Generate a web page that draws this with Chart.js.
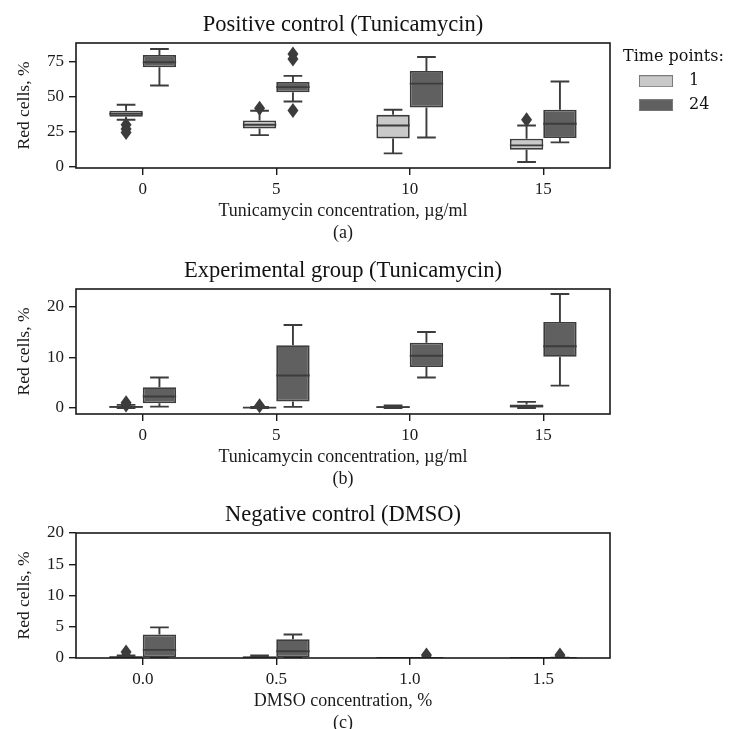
<!DOCTYPE html>
<html>
<head>
<meta charset="utf-8">
<script src="https://cdn.jsdelivr.net/npm/chart.js@4.4.0/dist/chart.umd.min.js"></script>
<style>
  html, body { margin: 0; padding: 0; background: #fff; width: 729px; height: 729px; overflow: hidden; }
  canvas { position: absolute; left: 0; }
</style>
</head>
<body>
<canvas id="chartA" width="729" height="245" style="top:0px"></canvas>
<canvas id="chartB" width="729" height="245" style="top:246px"></canvas>
<canvas id="chartC" width="729" height="245" style="top:490px"></canvas>
<script>
// categories
const tunicamycinLabels = ['0', '5', '10', '15'];
const dmsoLabels = ['0.0', '0.5', '1.0', '1.5'];
const timePoints = ['1', '24'];

// box stats per category: [lower whisker, q1, median, q3, upper whisker]
const posBox1 = [[33.6, 35.7, 37.9, 40.0, 44.3], [22.6, 27.4, 30.0, 33.0, 40.0], [9.5, 20.2, 29.5, 37.1, 40.7], [3.3, 12.1, 15.2, 20.0, 29.5]];
const posBox24 = [[58.1, 71.2, 74.8, 80.0, 84.3], [46.7, 53.3, 57.0, 60.7, 65.0], [20.9, 42.4, 59.5, 68.6, 78.6], [17.4, 20.5, 30.7, 40.7, 61.0]];
const posOut1 = [[30.0, 27.0, 24.5], [41.8], [], [33.6]];
const posOut24 = [[], [80.7, 77.1, 40.2], [], []];

const expBox1 = [[0, 0.05, 0.2, 0.4, 0.6], [0, 0.02, 0.05, 0.1, 0.2], [0, 0.05, 0.15, 0.35, 0.5], [0, 0.1, 0.3, 0.7, 1.2]];
const expBox24 = [[0.26, 0.9, 2.25, 4.1, 6.0], [0.2, 1.25, 6.4, 12.4, 16.4], [6.0, 8.1, 10.3, 12.9, 15.0], [4.4, 10.1, 12.2, 17.0, 22.5]];
const expOut1 = [[1.0, 0.6], [0.45], [], []];
const expOut24 = [[], [], [], []];

const dmsoBox1 = [[0, 0.05, 0.1, 0.3, 0.4], [0, 0.05, 0.1, 0.25, 0.4], [0, 0, 0, 0, 0], [0, 0, 0, 0, 0]];
const dmsoBox24 = [[0, 0, 1.3, 3.75, 4.9], [0, 0, 1.07, 3.0, 3.75], [0, 0, 0, 0, 0], [0, 0, 0, 0.02, 0.05]];
const dmsoOut1 = [[0.3, 0.95], [], [], []];
const dmsoOut24 = [[], [], [0.1, 0.5], [0.1, 0.5]];

// y tick labels
const posTicks = [0, 25, 50, 75];
const expTicks = [0, 10, 20];
const dmsoTicks = [0, 5, 10, 15, 20];

const lightFill = '#c9c9c9';
const darkFill = '#606060';
const lineColor = '#3c3c3c';
const axisColor = '#1a1a1a';

Chart.defaults.font.family = 'Liberation Serif';
Chart.defaults.color = '#1a1a1a';

// legend swatches
function swatch(fill) {
  const c = document.createElement('canvas');
  c.width = 34;
  c.height = 12;
  const g = c.getContext('2d');
  g.fillStyle = fill;
  g.fillRect(0, 0, 34, 12);
  g.strokeStyle = '#7a7a7a';
  g.lineWidth = 1;
  g.strokeRect(0.5, 0.5, 33, 11);
  return c;
}
const swatches = [swatch(lightFill), swatch(darkFill)];

// whiskers, medians, outliers and the frame
const boxParts = {
  id: 'boxParts',
  afterDatasetsDraw(chart) {
    const ctx = chart.ctx;
    const y = chart.scales.y;
    const area = chart.chartArea;
    ctx.save();
    ctx.beginPath();
    ctx.rect(area.left, area.top, area.right - area.left, area.bottom - area.top);
    ctx.clip();
    chart.data.datasets.forEach((ds, d) => {
      const meta = chart.getDatasetMeta(d);
      meta.data.forEach((bar, i) => {
        const s = ds.stats[i];
        const x = bar.x, half = bar.width / 2, cap = bar.width * 0.28;
        const yLo = y.getPixelForValue(s[0]), yQ1 = y.getPixelForValue(s[1]);
        const yMed = y.getPixelForValue(s[2]), yQ3 = y.getPixelForValue(s[3]);
        const yHi = y.getPixelForValue(s[4]);
        ctx.strokeStyle = lineColor;
        ctx.lineWidth = 1.9;
        ctx.beginPath();
        ctx.moveTo(x, yQ3); ctx.lineTo(x, yHi);
        ctx.moveTo(x - cap, yHi); ctx.lineTo(x + cap, yHi);
        ctx.moveTo(x, yQ1); ctx.lineTo(x, yLo);
        ctx.moveTo(x - cap, yLo); ctx.lineTo(x + cap, yLo);
        ctx.moveTo(x - half, yMed); ctx.lineTo(x + half, yMed);
        ctx.stroke();
        ctx.fillStyle = lineColor;
        ds.outliers[i].forEach(v => {
          const py = y.getPixelForValue(v);
          ctx.beginPath();
          ctx.moveTo(x, py - 7.5);
          ctx.lineTo(x + 5.5, py);
          ctx.lineTo(x, py + 7.5);
          ctx.lineTo(x - 5.5, py);
          ctx.closePath();
          ctx.fill();
        });
      });
    });
    ctx.restore();
    ctx.save();
    ctx.strokeStyle = axisColor;
    ctx.lineWidth = 1.6;
    ctx.strokeRect(area.left, area.top, area.right - area.left, area.bottom - area.top);
    ctx.restore();
  }
};

// put the legend to the right of the plot
const legendPlace = {
  id: 'legendPlace',
  afterLayout(chart) {
    const lg = chart.legend;
    if (!lg || !lg.options.display) return;
    lg.left = 623;
    lg.right = 729;
    lg.width = 106;
    lg.top = chart.chartArea.top;
    lg.bottom = lg.top + 90;
    lg.height = 90;
  }
};

function makeChart(id, title, labels, xTitle, box1, box24, out1, out24, yMin, yMax, yTicks, showLegend) {
  const tickGrid = {
    display: true, drawOnChartArea: false, drawTicks: true,
    tickLength: 7, offset: false, color: axisColor, lineWidth: 1.4
  };
  return new Chart(document.getElementById(id), {
    type: 'bar',
    data: {
      labels: labels,
      datasets: [
        {
          label: timePoints[0],
          data: box1.map(b => [b[1], b[3]]),
          stats: box1,
          outliers: out1,
          backgroundColor: lightFill,
          borderColor: lineColor,
          borderWidth: 1.8,
          borderSkipped: false
        },
        {
          label: timePoints[1],
          data: box24.map(b => [b[1], b[3]]),
          stats: box24,
          outliers: out24,
          backgroundColor: darkFill,
          borderColor: lineColor,
          borderWidth: 1.8,
          borderSkipped: false
        }
      ]
    },
    options: {
      responsive: false,
      animation: false,
      events: [],
      categoryPercentage: 0.5,
      barPercentage: 1.0,
      layout: { padding: { left: 0, right: 119, top: 0, bottom: 0 } },
      plugins: {
        title: {
          display: true,
          fullSize: false,
          text: title,
          color: '#111',
          font: { family: 'Liberation Serif', size: 22.5, weight: 'normal' },
          padding: { top: 11.5, bottom: 4.5 }
        },
        legend: {
          display: showLegend,
          position: 'chartArea',
          align: 'start',
          title: {
            display: true,
            text: 'Time points:',
            position: 'start',
            color: '#111',
            font: { family: 'DejaVu Serif', size: 16 },
            padding: { top: 6, bottom: -3 }
          },
          labels: {
            font: { family: 'DejaVu Serif', size: 16 },
            color: '#111',
            usePointStyle: true,
            pointStyleWidth: 50,
            boxHeight: 12,
            padding: 8,
            generateLabels(chart) {
              const items = Chart.defaults.plugins.legend.labels.generateLabels(chart);
              items.forEach((it, i) => { it.pointStyle = swatches[i]; });
              return items;
            }
          }
        },
        tooltip: { enabled: false }
      },
      scales: {
        x: {
          grid: tickGrid,
          border: { display: false },
          ticks: { font: { size: 17 }, padding: 4, color: '#1a1a1a' },
          title: {
            display: true,
            text: [xTitle, '(' + id.slice(-1).toLowerCase() + ')'],
            font: { family: 'Liberation Serif', size: 18 },
            color: '#1a1a1a',
            padding: { top: 0, bottom: 1.2 }
          },
          afterFit(scale) { scale.height = 77; }
        },
        y: {
          min: yMin,
          max: yMax,
          grid: tickGrid,
          border: { display: false },
          ticks: { font: { size: 17 }, padding: 5, color: '#1a1a1a' },
          afterBuildTicks(scale) { scale.ticks = yTicks.map(v => ({ value: v })); },
          title: {
            display: true,
            text: 'Red cells, %',
            font: { family: 'Liberation Serif', size: 17.5 },
            color: '#1a1a1a',
            padding: { top: 14, bottom: 0 }
          },
          afterFit(scale) { scale.width = 76; }
        }
      }
    },
    plugins: [boxParts, legendPlace]
  });
}

makeChart('chartA', 'Positive control (Tunicamycin)', tunicamycinLabels, 'Tunicamycin concentration, \u00b5g/ml',
  posBox1, posBox24, posOut1, posOut24, -1, 88.6, posTicks, true);
makeChart('chartB', 'Experimental group (Tunicamycin)', tunicamycinLabels, 'Tunicamycin concentration, \u00b5g/ml',
  expBox1, expBox24, expOut1, expOut24, -1.2, 23.5, expTicks, false);
makeChart('chartC', 'Negative control (DMSO)', dmsoLabels, 'DMSO concentration, %',
  dmsoBox1, dmsoBox24, dmsoOut1, dmsoOut24, 0, 20, dmsoTicks, false);
</script>
</body>
</html>
